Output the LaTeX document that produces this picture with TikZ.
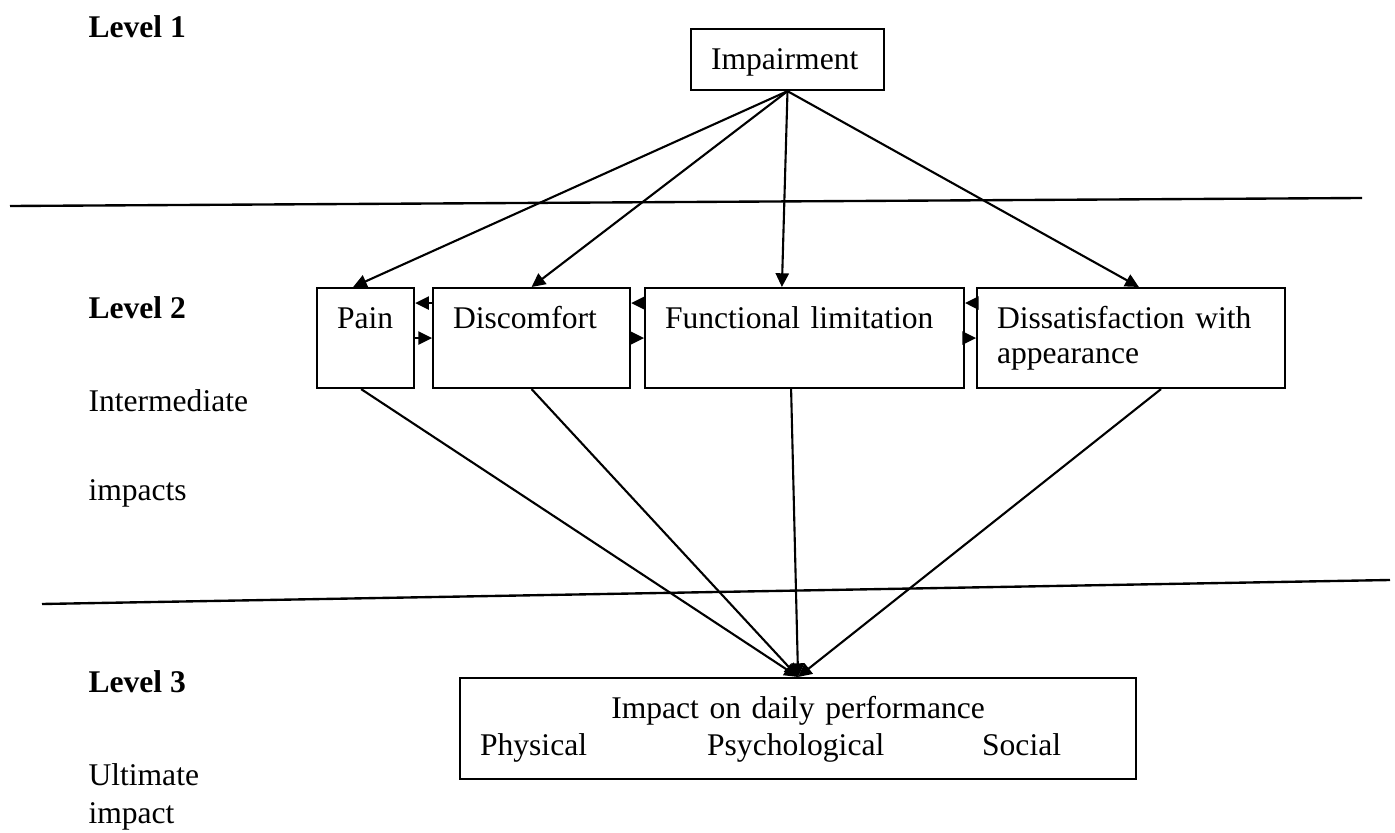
\documentclass[tikz,border=0pt]{standalone}
\usepackage{fontspec}
\setmainfont{Liberation Serif}
\usetikzlibrary{arrows.meta}

\begin{document}
\begin{tikzpicture}[x=0.38pt,y=-0.38pt,
    every node/.style={font=\fontsize{12}{14}\selectfont},
    box/.style={draw,line width=0.8pt,anchor=north west,align=left,inner xsep=7.6pt,inner ysep=0pt,text height=15.2pt,text depth=22.8pt},
    lbl/.style={anchor=base west,inner sep=0pt},
    arr/.style={line width=0.8pt,-{Triangle[length=5.2pt,width=5pt]}},
    sep/.style={line width=0.9pt}]
    %
    \useasboundingbox (0,0) rectangle (1395,833);
    %
    \node[lbl] (lvone) at (88,38) {\textbf{Level 1}};
    \node[lbl] (lvtwo) at (88,319) {\textbf{Level 2}};
    \node[lbl] (midA) at (88,412) {Intermediate};
    \node[lbl] (midB) at (88,500) {impacts};
    \node[lbl] (lvthree) at (88,692) {\textbf{Level 3}};
    \node[lbl] (ultA) at (88,785) {Ultimate};
    \node[lbl] (ultB) at (88,823) {impact};
    %
    \draw[sep] (10,206) -- (1362,198);
    \draw[sep] (42,604) -- (1390,580);
    %
    \node[box,text width=58.1pt,text depth=8pt] (imp) at (690,28) {Impairment};
    \node[box,text width=21.7pt] (pain) at (316,287) {Pain};
    \node[box,text width=59.7pt] (disc) at (432,287) {Discomfort};
    \node[box,text width=106pt] (func) at (644,287) {Functional limitation};
    \node[box,text width=101.8pt,font=\fontsize{12}{13.3}\selectfont] (dissat) at (976,287) {Dissatisfaction with\\appearance};
    \node[box,text width=241.7pt,text depth=23.2pt,font=\fontsize{12}{14.4}\selectfont] (daily) at (459,677)
        {\makebox[241.7pt]{Impact on daily performance}\\
         \makebox[86.3pt][l]{Physical}\makebox[104.5pt][l]{Psychological}Social};
    %
    \draw[arr] (imp.south) -- ([xshift=-4.75pt]pain.north);
    \draw[arr] (imp.south) -- (disc.north);
    \draw[arr] (imp.south) -- ([xshift=-8.6pt]func.north);
    \draw[arr] (imp.south) -- ([xshift=3pt]dissat.north);
    %
    \draw[arr] ([yshift=-6.1pt]disc.north west) -- ([yshift=-6.1pt]pain.north east);
    \draw[arr] ([yshift=-19.4pt]pain.north east) -- ([yshift=-19.4pt]disc.north west);
    \draw[arr] ([yshift=-6.1pt]func.north west) -- ([yshift=-6.1pt]disc.north east);
    \draw[arr] ([yshift=-19.4pt]disc.north east) -- ([yshift=-19.4pt]func.north west);
    \draw[arr] ([yshift=-6.1pt]dissat.north west) -- ([yshift=-6.1pt]func.north east);
    \draw[arr] ([yshift=-19.4pt]func.north east) -- ([yshift=-19.4pt]dissat.north west);
    %
    \draw[arr] ([xshift=-1.7pt]pain.south) -- (daily.north);
    \draw[arr] (disc.south) -- (daily.north);
    \draw[arr] ([xshift=-5.1pt]func.south) -- (daily.north);
    \draw[arr] ([xshift=11.4pt]dissat.south) -- (daily.north);
    %
\end{tikzpicture}
\end{document}
